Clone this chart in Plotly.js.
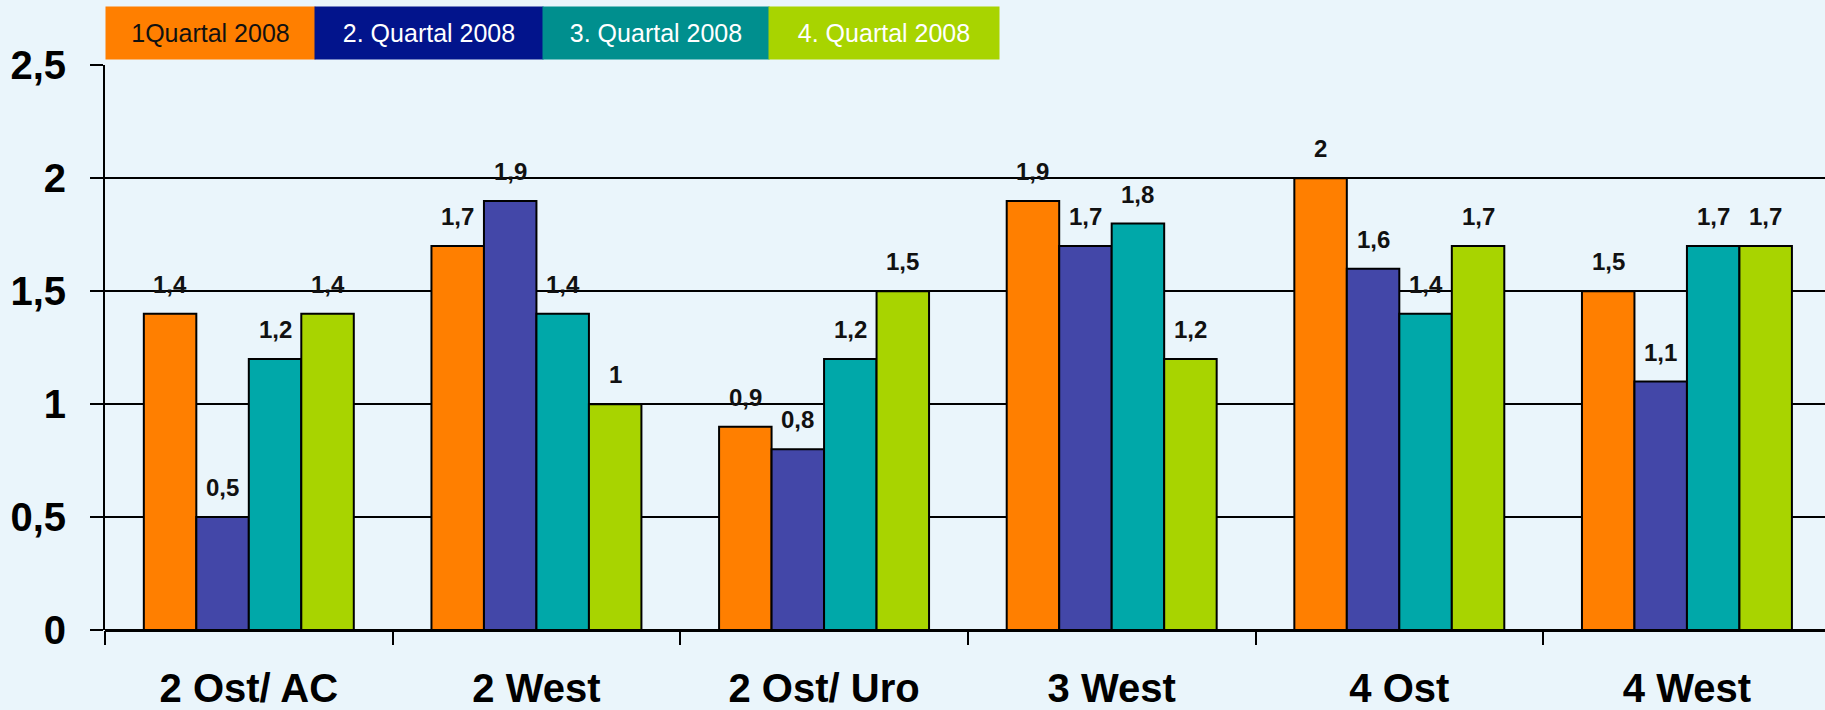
<!DOCTYPE html>
<html>
<head>
<meta charset="utf-8">
<script src="https://cdn.plot.ly/plotly-3.0.1.min.js"></script>
<style>
  html, body { margin: 0; padding: 0; background: #eaf5fb; }
  #chart { width: 1825px; height: 710px; }
</style>
</head>
<body>
<div id="chart"></div>
<script>
// Stations and quarterly values
var stations = ["2 Ost/ AC", "2 West", "2 Ost/ Uro", "3 West", "4 Ost", "4 West"];
var seriesNames = ["1Quartal 2008", "2. Quartal 2008", "3. Quartal 2008", "4. Quartal 2008"];
var q1 = [1.4, 1.7, 0.9, 1.9, 2.0, 1.5];
var q2 = [0.5, 1.9, 0.8, 1.7, 1.6, 1.1];
var q3 = [1.2, 1.4, 1.2, 1.8, 1.4, 1.7];
var q4 = [1.4, 1.0, 1.5, 1.2, 1.7, 1.7];
var yTickVals = [0, 0.5, 1, 1.5, 2, 2.5];
var yTickText = ["0", "0,5", "1", "1,5", "2", "2,5"];

var seriesValues = [q1, q2, q3, q4];
var barColors = ["#ff7f00", "#4347a8", "#00a8a9", "#a8d400"];
var legendColors = ["#ff7f00", "#02148c", "#008f8e", "#a8d400"];
var legendText = ["#111111", "#ffffff", "#ffffff", "#ffffff"];
var FONT = "Liberation Sans, Arial, sans-serif";
var BARGAP = 0.27;

function fmt(v) { return String(v).replace(".", ","); }

var traces = seriesValues.map(function (vals, s) {
  return {
    type: "bar",
    name: seriesNames[s],
    x: stations,
    y: vals,
    marker: { color: barColors[s], line: { color: "#000000", width: 2 } },
    hoverinfo: "skip",
    showlegend: false
  };
});

// value labels above each bar
var annotations = [];
var barW = (1 - BARGAP) / seriesValues.length;
seriesValues.forEach(function (vals, s) {
  vals.forEach(function (v, i) {
    annotations.push({
      x: i + (s - (seriesValues.length - 1) / 2) * barW,
      y: v, xref: "x", yref: "y",
      text: "<b>" + fmt(v) + "</b>",
      showarrow: false, yanchor: "bottom", yshift: 14,
      font: { family: FONT, size: 24, color: "#111111" }
    });
  });
});

// coloured legend strip at the top
var plotL = 105, plotW = 1720, plotT = 65, plotH = 565;
var legendBoxes = [[105, 209], [314, 228], [542, 226], [768, 230]];
seriesNames.forEach(function (name, s) {
  annotations.push({
    xref: "paper", yref: "paper",
    x: (legendBoxes[s][0] - plotL) / plotW, xanchor: "left",
    y: (630 - 6) / plotH, yanchor: "top",
    width: legendBoxes[s][1], height: 52,
    borderpad: 0, bgcolor: legendColors[s],
    text: name, showarrow: false, align: "center", valign: "middle",
    font: { family: FONT, size: 25, color: legendText[s] }
  });
});

var layout = {
  width: 1825, height: 710,
  margin: { l: plotL, r: 0, t: plotT, b: 80 },
  paper_bgcolor: "#eaf5fb", plot_bgcolor: "#eaf5fb",
  barmode: "group", bargap: BARGAP, bargroupgap: 0,
  font: { family: FONT, color: "#000000" },
  showlegend: false,
  xaxis: {
    type: "category",
    range: [-0.5, 5.48],
    tickson: "boundaries",
    ticks: "outside", ticklen: 14, tickwidth: 2, tickcolor: "#000000",
    showline: false, showgrid: false, zeroline: false,
    ticklabelstandoff: 31,
    tickfont: { family: FONT, size: 40, color: "#000000", weight: "bold" }
  },
  yaxis: {
    range: [0, 2.502],
    tickvals: yTickVals, ticktext: yTickText,
    ticks: "outside", ticklen: 13, tickwidth: 2, tickcolor: "#000000",
    showline: true, linecolor: "#000000", linewidth: 2,
    showgrid: true, gridcolor: "#000000", gridwidth: 2,
    zeroline: true, zerolinecolor: "#000000", zerolinewidth: 3,
    ticklabelstandoff: 16,
    tickfont: { family: FONT, size: 40, color: "#000000", weight: "bold" }
  },
  annotations: annotations
};

Plotly.newPlot("chart", traces, layout, { displayModeBar: false, staticPlot: true });
</script>
</body>
</html>
